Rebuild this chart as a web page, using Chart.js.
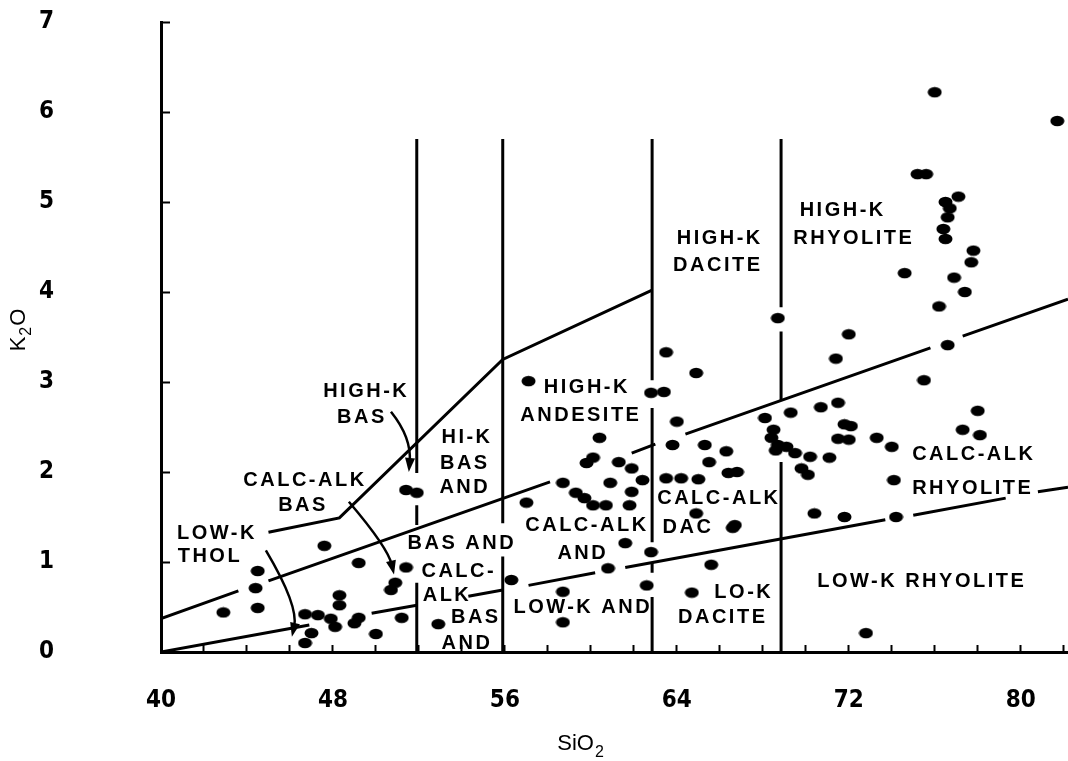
<!DOCTYPE html>
<html>
<head>
<meta charset="utf-8">
<title>K2O vs SiO2</title>
<script src="https://cdn.jsdelivr.net/npm/chart.js@4.4.1/dist/chart.umd.min.js"></script>
<style>
  html, body { margin: 0; padding: 0; background: #fff; }
  #wrap { width: 1068px; height: 761px; position: relative; }
</style>
</head>
<body>
<div id="wrap"><canvas id="chart"></canvas></div>
<script>
// sample analyses
const sio2 = [
  51.4, 51.9, 47.6, 49.2, 51.4, 44.5, 44.4, 50.9, 50.7, 42.9, 44.5, 48.3, 48.3, 46.7, 47.3, 47.9,
  48.1, 47.0, 46.7, 49.2, 49.0, 50.0, 51.2, 52.9,
  57.1, 60.4, 60.1, 59.8, 58.7, 59.3, 59.7, 60.1, 60.7, 61.3, 61.9, 62.4, 60.9, 61.9, 61.8, 57.0,
  61.6, 62.8, 60.8, 62.6, 56.3, 58.7, 58.7, 62.8, 63.4, 63.5, 64.0, 63.8, 63.5, 64.2, 65.0, 64.9,
  65.3, 66.3, 65.5, 66.4, 66.8, 64.9, 66.7, 66.6, 65.6, 64.7,
  68.7, 72.0, 71.4, 69.3, 68.1, 68.5, 68.4, 68.7, 69.1, 69.5, 68.6, 70.2, 69.8, 70.1, 70.7, 71.5,
  71.8, 72.1, 71.5, 72.0, 71.1, 73.3, 74.0, 74.1, 70.4, 71.8, 74.2, 72.8,
  76.0, 81.7, 75.2, 75.6, 77.1, 76.5, 76.7, 76.6, 76.4, 76.5, 77.8, 77.7, 74.6, 76.9, 77.4, 76.2,
  76.6, 75.5, 78.0, 77.3, 78.1
];
const k2o = [
  1.80, 1.77, 1.18, 0.99, 0.94, 0.90, 0.71, 0.77, 0.69, 0.44, 0.49, 0.63, 0.52, 0.42, 0.41, 0.37,
  0.28, 0.21, 0.10, 0.38, 0.32, 0.20, 0.38, 0.31,
  3.01, 2.38, 2.16, 2.10, 1.88, 1.77, 1.71, 1.63, 1.63, 2.11, 2.04, 1.91, 1.88, 1.78, 1.63, 1.66,
  1.21, 1.11, 0.93, 0.74, 0.80, 0.67, 0.33, 2.88, 2.89, 3.33, 2.56, 2.30, 1.93, 1.93, 1.92, 3.10,
  2.30, 2.23, 2.11, 1.99, 2.00, 1.54, 1.41, 1.38, 0.97, 0.66,
  3.71, 3.53, 3.26, 2.66, 2.60, 2.47, 2.38, 2.30, 2.28, 2.21, 2.24, 2.17, 2.04, 1.97, 2.72, 2.77,
  2.53, 2.51, 2.37, 2.36, 2.16, 2.38, 2.28, 1.91, 1.54, 1.50, 1.50, 0.21,
  6.22, 5.90, 5.31, 5.31, 5.06, 5.00, 4.93, 4.83, 4.70, 4.59, 4.46, 4.33, 4.21, 4.16, 4.00, 3.84,
  3.41, 3.02, 2.68, 2.47, 2.41
];

// field boundaries, drawn as broken segments like the original
const lowKLine = [
  [[40, 0], [46.9, 0.30]],
  [[49.8, 0.43], [51.9, 0.52]],
  [[54.3, 0.62], [55.9, 0.69]],
  [[57.1, 0.74], [60.2, 0.88]],
  [[61.6, 0.94], [73.7, 1.47]],
  [[75.0, 1.52], [79.3, 1.71]],
  [[80.8, 1.78], [82.2, 1.83]]
];
const calcAlkLine = [
  [[40, 0.37], [43.6, 0.68]],
  [[45.0, 0.79], [58.1, 1.89]],
  [[61.9, 2.21], [63.0, 2.31]],
  [[64.4, 2.42], [75.8, 3.38]],
  [[77.3, 3.51], [82.2, 3.92]]
];
const highKLine = [
  [[45.0, 1.33], [48.3, 1.49], [55.9, 3.25], [62.85, 4.02]]
];
const divider52 = [[[51.9, 5.7], [51.9, 1.99]], [[51.9, 1.63], [51.9, 1.41]], [[51.9, 0.77], [51.9, 0]]];
const divider56 = [[[55.9, 5.7], [55.9, 1.43]], [[55.9, 1.06], [55.9, 0]]];
const divider63 = [[[62.85, 5.7], [62.85, 3.02]], [[62.85, 2.71], [62.85, 1.22]], [[62.85, 1.0], [62.85, 0.88]], [[62.85, 0.61], [62.85, 0]]];
const divider69 = [[[68.85, 5.7], [68.85, 3.83]], [[68.85, 3.56], [68.85, 2.8]], [[68.85, 2.11], [68.85, 0]]];

const xTicks = [40, 48, 56, 64, 72, 80];

// field names [text, SiO2, K2O]
const fieldLabels = [
  ['HIGH-K', 49.5, 2.89], ['BAS', 49.3, 2.61],
  ['CALC-ALK', 46.65, 1.91], ['BAS', 46.56, 1.63],
  ['LOW-K', 42.56, 1.32], ['THOL', 42.23, 1.06],
  ['HI-K', 54.19, 2.38], ['BAS', 54.09, 2.10], ['AND', 54.09, 1.83],
  ['HIGH-K', 59.77, 2.94], ['ANDESITE', 59.49, 2.63],
  ['CALC-ALK', 59.77, 1.41], ['AND', 59.58, 1.10],
  ['LOW-K AND', 59.58, 0.49],
  ['BAS AND', 53.95, 1.21], ['CALC-', 53.81, 0.90], ['ALK', 53.26, 0.63],
  ['BAS', 54.6, 0.38], ['AND', 54.19, 0.10],
  ['HIGH-K', 65.95, 4.60], ['DACITE', 65.86, 4.30],
  ['HIGH-K', 71.67, 4.91], ['RHYOLITE', 72.19, 4.60],
  ['CALC-ALK', 65.91, 1.71], ['DAC', 64.47, 1.38],
  ['LO-K', 67.07, 0.66], ['DACITE', 66.09, 0.38],
  ['LOW-K RHYOLITE', 75.35, 0.78],
  ['CALC-ALK', 77.77, 2.19], ['RHYOLITE', 77.72, 1.82]
];
// curved pointers: start, bend, tip
const arrows = [
  [[50.70, 2.67], [51.67, 2.38], [51.53, 2.0]],
  [[48.74, 1.67], [50.56, 1.16], [50.84, 0.86]],
  [[44.88, 1.13], [46.42, 0.51], [46.09, 0.17]]
];

function toLineData(segs) {
  const out = [];
  segs.forEach((seg, i) => {
    if (i > 0) out.push({ x: seg[0][0], y: null });
    seg.forEach(p => out.push({ x: p[0], y: p[1] }));
  });
  return out;
}

function boundary(segs) {
  return {
    data: toLineData(segs),
    showLine: true,
    spanGaps: false,
    borderColor: '#000',
    borderWidth: 3,
    pointRadius: 0,
    fill: false
  };
}

// oval blobs like the hand-inked dots
const dot = document.createElement('canvas');
dot.width = 15;
dot.height = 12;
const dctx = dot.getContext('2d');
dctx.fillStyle = '#000';
dctx.beginPath();
dctx.ellipse(7.5, 6, 7, 5.3, 0, 0, Math.PI * 2);
dctx.fill();

const tickFont = { family: '"Liberation Sans Narrow", "DejaVu Sans Condensed", sans-serif', size: 24, weight: 'bold' };

const notes = {
  id: 'notes',
  afterDraw(chart) {
    const { ctx } = chart;
    const { x, y } = chart.scales;
    ctx.save();
    ctx.fillStyle = '#000';
    ctx.strokeStyle = '#000';

    ctx.font = 'bold 20px "Liberation Sans", Arial, sans-serif';
    ctx.letterSpacing = '2.5px';
    ctx.textAlign = 'center';
    ctx.textBaseline = 'middle';
    for (const [text, sx, ky] of fieldLabels) {
      ctx.fillText(text, x.getPixelForValue(sx) + 1, y.getPixelForValue(ky));
    }
    ctx.letterSpacing = '0px';

    ctx.lineWidth = 2.5;
    for (const [s, c, e] of arrows) {
      const sx = x.getPixelForValue(s[0]), sy = y.getPixelForValue(s[1]);
      const cx = x.getPixelForValue(c[0]), cy = y.getPixelForValue(c[1]);
      const ex = x.getPixelForValue(e[0]), ey = y.getPixelForValue(e[1]);
      const ang = Math.atan2(ey - cy, ex - cx);
      const bx = ex - Math.cos(ang) * 10, by = ey - Math.sin(ang) * 10;
      ctx.beginPath();
      ctx.moveTo(sx, sy);
      ctx.quadraticCurveTo(cx, cy, bx, by);
      ctx.stroke();
      ctx.beginPath();
      ctx.moveTo(ex, ey);
      ctx.lineTo(ex - Math.cos(ang) * 14 + Math.sin(ang) * 5, ey - Math.sin(ang) * 14 - Math.cos(ang) * 5);
      ctx.lineTo(ex - Math.cos(ang) * 14 - Math.sin(ang) * 5, ey - Math.sin(ang) * 14 + Math.cos(ang) * 5);
      ctx.closePath();
      ctx.fill();
    }

    // axis titles with subscripts
    ctx.textAlign = 'left';
    ctx.textBaseline = 'alphabetic';
    const big = '22px "Liberation Sans", Arial, sans-serif';
    const small = '16px "Liberation Sans", Arial, sans-serif';
    ctx.font = big;
    const wSiO = ctx.measureText('SiO').width;
    ctx.font = small;
    const w2 = ctx.measureText('2').width;
    let tx = 580 - (wSiO + w2) / 2;
    ctx.font = big;
    ctx.fillText('SiO', tx, 750);
    ctx.font = small;
    ctx.fillText('2', tx + wSiO + 1, 757);

    ctx.translate(17, 330);
    ctx.rotate(-Math.PI / 2);
    ctx.font = big;
    const wK = ctx.measureText('K').width;
    tx = -(wK + w2 + ctx.measureText('O').width + 2) / 2;
    ctx.fillText('K', tx, 8);
    ctx.font = small;
    ctx.fillText('2', tx + wK + 1, 14);
    ctx.font = big;
    ctx.fillText('O', tx + wK + w2 + 2, 8);
    ctx.restore();
  }
};

new Chart(document.getElementById('chart'), {
  type: 'scatter',
  data: {
    datasets: [
      {
        data: sio2.map((v, i) => ({ x: v, y: k2o[i] })),
        pointStyle: dot,
        pointRadius: 6,
        backgroundColor: '#000',
        borderColor: '#000'
      },
      boundary(lowKLine),
      boundary(calcAlkLine),
      boundary(highKLine),
      boundary(divider52),
      boundary(divider56),
      boundary(divider63),
      boundary(divider69)
    ]
  },
  options: {
    responsive: true,
    maintainAspectRatio: false,
    animation: false,
    events: [],
    // the plot runs right to the edge of the page
    layout: { autoPadding: false, padding: { top: 22, right: 0, bottom: 0, left: 0 } },
    plugins: { legend: { display: false }, tooltip: { enabled: false } },
    scales: {
      x: {
        type: 'linear',
        position: 'bottom',
        min: 40,
        max: 82.2,
        // fixed axis box; drop the label overhang padding
        afterFit: s => { s.height = 109; s.paddingLeft = 0; s.paddingRight = 0; },
        ticks: {
          stepSize: 2,
          includeBounds: false,
          autoSkip: false,
          maxRotation: 0,
          padding: 41,
          color: '#000',
          font: tickFont,
          callback: v => (xTicks.includes(Math.round(v)) ? String(Math.round(v)) : '')
        },
        grid: { drawOnChartArea: false, drawTicks: true, tickLength: -7, tickWidth: 2, tickColor: '#000' },
        border: { display: true, color: '#000', width: 3 }
      },
      y: {
        min: 0,
        max: 7,
        afterFit: s => { s.width = 161; s.paddingTop = 0; s.paddingBottom = 0; },
        ticks: {
          stepSize: 1,
          padding: 116,
          crossAlign: 'center',
          color: '#000',
          font: tickFont
        },
        grid: { drawOnChartArea: false, drawTicks: true, tickLength: -9, tickWidth: 2, tickColor: '#000' },
        border: { display: true, color: '#000', width: 3 }
      }
    }
  },
  plugins: [notes]
});
</script>
</body>
</html>
